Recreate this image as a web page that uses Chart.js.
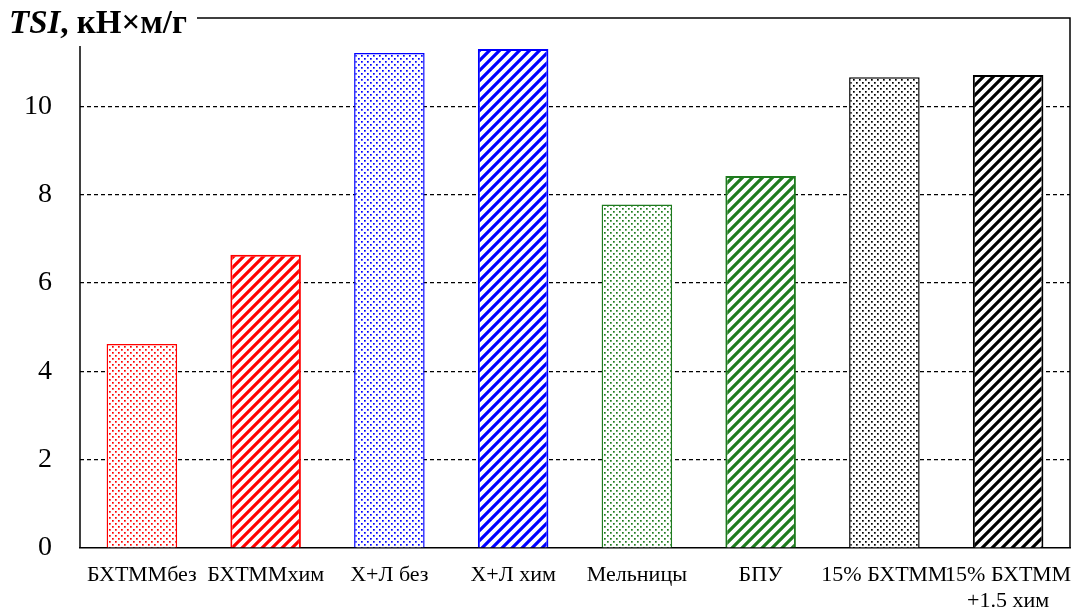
<!DOCTYPE html>
<html><head><meta charset="utf-8">
<script src="https://cdn.jsdelivr.net/npm/chart.js@4.4.1/dist/chart.umd.min.js"></script>
<style>html,body{margin:0;padding:0;background:#fff;}#wrap{width:1075px;height:607px;position:relative;}</style>
</head><body><div id="wrap"><canvas id="c" width="1075" height="607"></canvas></div>
<script>
const categories = ['БХТММбез','БХТММхим','Х+Л без','Х+Л хим','Мельницы','БПУ','15% БХТММ',['15% БХТММ','+1.5 хим']];
const values = [4.62, 6.64, 11.21, 11.30, 7.78, 8.42, 10.66, 10.71];
const barColors = ['#ff0000','#ff0000','#0000ff','#0000ff','#1e7b1e','#1e7b1e','#000000','#000000'];
const barKinds = ['dots','stripes','dots','stripes','dots','stripes','dots','stripes'];
const yTicks = [0,2,4,6,8,10];

function makePattern(kind, color){
  const c = document.createElement('canvas');
  const s = kind === 'dots' ? 6 : 10;
  c.width = s; c.height = s;
  const x = c.getContext('2d');
  x.fillStyle = '#fff'; x.fillRect(0,0,s,s);
  if (kind === 'dots') {
    x.fillStyle = color;
    x.fillRect(1,1,1.7,1.7);
    x.fillRect(4,4,1.7,1.7);
  } else {
    x.strokeStyle = color; x.lineWidth = 3.2; x.lineCap = 'square';
    x.beginPath();
    x.moveTo(-5,5); x.lineTo(5,-5);
    x.moveTo(0,10); x.lineTo(10,0);
    x.moveTo(5,15); x.lineTo(15,5);
    x.stroke();
  }
  const ctx = document.getElementById('c').getContext('2d');
  return ctx.createPattern(c,'repeat');
}
const fills = barKinds.map((k,i)=>makePattern(k,barColors[i]));

const frame = {
  id:'frame',
  afterDraw(chart){
    const {ctx, chartArea:a} = chart;
    ctx.save();
    ctx.strokeStyle = '#000'; ctx.lineWidth = 1.5;
    ctx.beginPath();
    ctx.moveTo(197, a.top); ctx.lineTo(a.right, a.top); ctx.lineTo(a.right, a.bottom);
    ctx.moveTo(a.left, a.top + 28); ctx.lineTo(a.left, a.bottom);
    ctx.stroke();
    ctx.fillStyle = '#000'; ctx.textBaseline = 'alphabetic'; ctx.textAlign = 'left';
    ctx.font = 'italic bold 33px "Liberation Serif"';
    ctx.fillText('TSI', 9, 33);
    const w = ctx.measureText('TSI').width;
    ctx.font = 'bold 33px "Liberation Serif"';
    ctx.fillText(', кН×м/г', 9 + w, 33);
    ctx.restore();
  }
};

new Chart(document.getElementById('c'), {
  type:'bar',
  data:{ labels: categories, datasets:[{
    data: values,
    backgroundColor: fills,
    borderColor: barColors,
    borderWidth: barKinds.map(k=> k==='dots'?1.5:2),
    barPercentage: 0.57, categoryPercentage: 1.0
  }]},
  options:{
    responsive:false, animation:false,
    layout:{padding:{top:18,right:5,left:0,bottom:0}},
    plugins:{legend:{display:false}, tooltip:{enabled:false}},
    scales:{
      x:{
        grid:{display:false},
        border:{display:true,color:'#000',width:1.5},
        ticks:{autoSkip:false,maxRotation:0,minRotation:0,color:'#000',padding:6,
          font:{family:'Liberation Serif',size:22}},
        afterFit(s){ s.height = 59; s.paddingLeft = 0; s.paddingRight = 0; }
      },
      y:{
        min:0,max:12,
        border:{display:false, dash:[4,3]},
        grid:{color:(c)=> (c.tick.value>0 && c.tick.value<12)?'#000':'rgba(0,0,0,0)', lineWidth:1.2, drawTicks:false},
        afterBuildTicks(s){ s.ticks = yTicks.map(v=>({value:v})); },
        ticks:{color:'#000',padding:28,
          font:{family:'Liberation Serif',size:28}},
        afterFit(s){ s.width = 80; s.paddingTop = 0; s.paddingBottom = 0; }
      }
    }
  },
  plugins:[frame]
});
</script></body></html>
